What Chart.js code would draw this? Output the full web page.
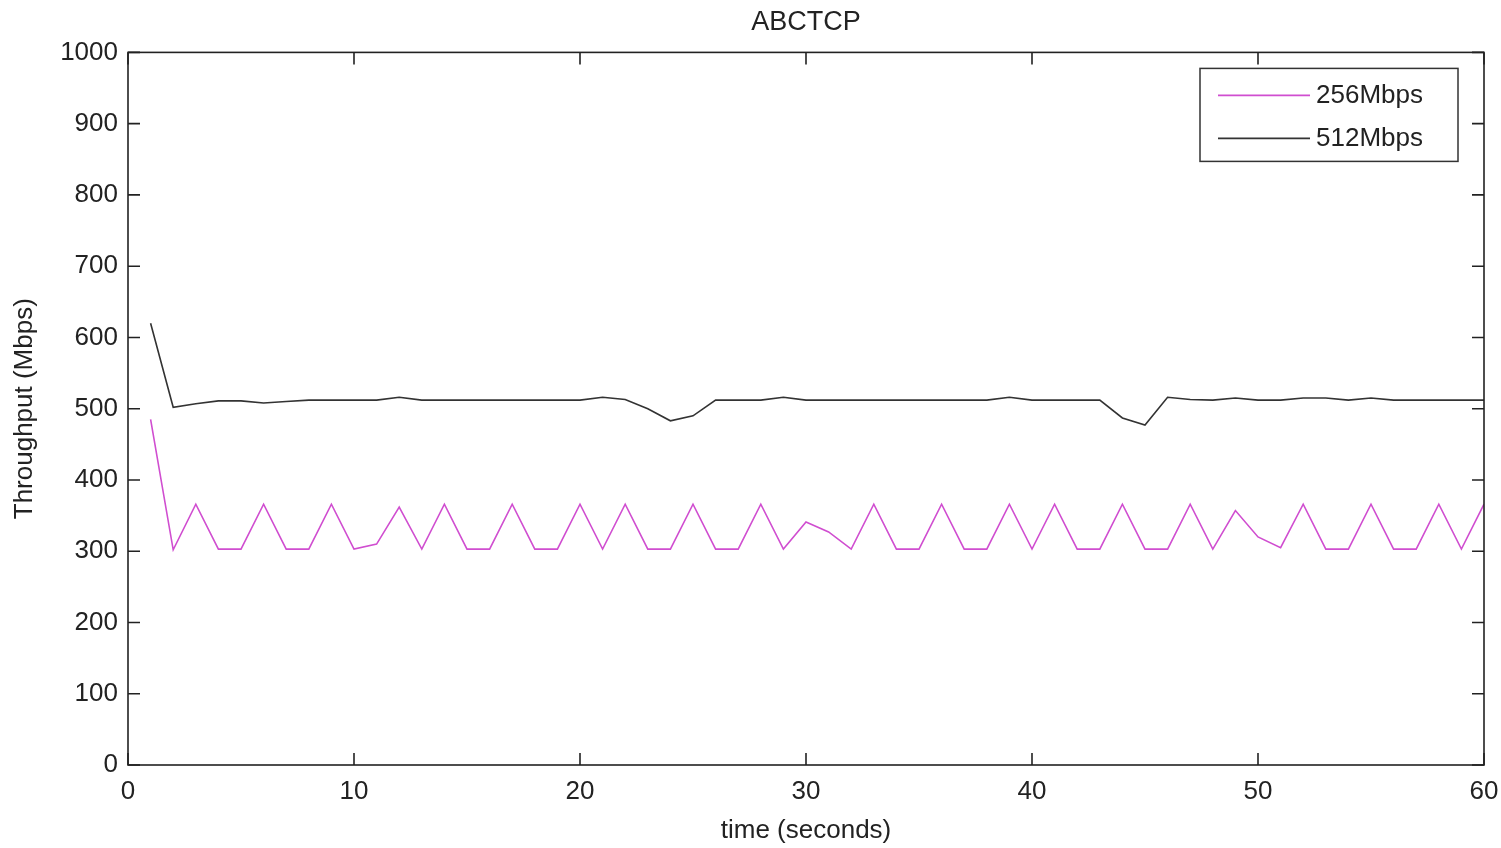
<!DOCTYPE html>
<html>
<head>
<meta charset="utf-8">
<script src="https://cdn.jsdelivr.net/npm/chart.js@4.4.0/dist/chart.umd.min.js"></script>
<style>
  html, body { margin: 0; padding: 0; background: #fff; }
  #wrap { width: 1501px; height: 848px; }
</style>
</head>
<body>
<div id="wrap"><canvas id="myChart" width="1501" height="848"></canvas></div>
<script>
// time axis (seconds)
var seconds = [1, 2, 3, 4, 5, 6, 7, 8, 9, 10, 11, 12, 13, 14, 15, 16, 17, 18, 19, 20,
               21, 22, 23, 24, 25, 26, 27, 28, 29, 30, 31, 32, 33, 34, 35, 36, 37, 38, 39, 40,
               41, 42, 43, 44, 45, 46, 47, 48, 49, 50, 51, 52, 53, 54, 55, 56, 57, 58, 59, 60];

// throughput values (Mbps)
var mbps256 = [485, 302, 366, 303, 303, 366, 303, 303, 366, 303, 310, 362, 303, 366, 303, 303, 366, 303, 303, 366,
               303, 366, 303, 303, 366, 303, 303, 366, 303, 341, 327, 303, 366, 303, 303, 366, 303, 303, 366, 303,
               366, 303, 303, 366, 303, 303, 366, 303, 357, 320, 305, 366, 303, 303, 366, 303, 303, 366, 303, 366];

var mbps512 = [620, 502, 507, 511, 511, 508, 510, 512, 512, 512, 512, 516, 512, 512, 512, 512, 512, 512, 512, 512,
               516, 513, 500, 483, 490, 512, 512, 512, 516, 512, 512, 512, 512, 512, 512, 512, 512, 512, 516, 512,
               512, 512, 512, 487, 477, 516, 513, 512, 515, 512, 512, 515, 515, 512, 515, 512, 512, 512, 512, 512];

var seriesNames = ['256Mbps', '512Mbps'];
var seriesColors = ['rgb(208, 78, 208)', '#333333'];

var xTicks = [0, 10, 20, 30, 40, 50, 60];
var yTicks = [0, 100, 200, 300, 400, 500, 600, 700, 800, 900, 1000];

var textFont = '"Liberation Sans", Arial, Helvetica, sans-serif';

function toPoints(ys) {
    return seconds.map(function (t, i) { return { x: t, y: ys[i] }; });
}

// frame, inward ticks on all four sides, and the boxed legend
var matlabFrame = {
    id: 'matlabFrame',
    afterDraw: function (chart) {
        var ctx = chart.ctx;
        var a = chart.chartArea;
        var x = chart.scales.x, y = chart.scales.y;
        var tl = 12;
        ctx.save();
        ctx.strokeStyle = '#222';
        ctx.lineWidth = 1.6;
        ctx.strokeRect(a.left, a.top, a.right - a.left, a.bottom - a.top);
        ctx.beginPath();
        xTicks.forEach(function (v) {
            var px = x.getPixelForValue(v);
            ctx.moveTo(px, a.bottom); ctx.lineTo(px, a.bottom - tl);
            ctx.moveTo(px, a.top); ctx.lineTo(px, a.top + tl);
        });
        yTicks.forEach(function (v) {
            var py = y.getPixelForValue(v);
            ctx.moveTo(a.left, py); ctx.lineTo(a.left + tl, py);
            ctx.moveTo(a.right, py); ctx.lineTo(a.right - tl, py);
        });
        ctx.stroke();

        // legend box in the top right corner
        var bx = a.right - 284, by = a.top + 16, bw = 258, bh = 93;
        ctx.fillStyle = '#fff';
        ctx.fillRect(bx, by, bw, bh);
        ctx.lineWidth = 1.5;
        ctx.strokeStyle = '#333';
        ctx.strokeRect(bx, by, bw, bh);
        ctx.font = '26px ' + textFont;
        ctx.textBaseline = 'middle';
        ctx.textAlign = 'left';
        seriesNames.forEach(function (name, i) {
            var ly = by + 27 + i * 43;
            ctx.strokeStyle = seriesColors[i];
            ctx.lineWidth = 1.6;
            ctx.beginPath();
            ctx.moveTo(bx + 18, ly);
            ctx.lineTo(bx + 110, ly);
            ctx.stroke();
            ctx.fillStyle = '#222';
            ctx.fillText(name, bx + 116, ly);
        });
        ctx.restore();
    }
};

var ctx = document.getElementById('myChart').getContext('2d');
var myChart = new Chart(ctx, {
    type: 'line',
    data: {
        datasets: [{
            label: seriesNames[0],
            data: toPoints(mbps256),
            borderColor: seriesColors[0],
            borderWidth: 1.6,
            pointRadius: 0,
            tension: 0,
            fill: false
        }, {
            label: seriesNames[1],
            data: toPoints(mbps512),
            borderColor: seriesColors[1],
            borderWidth: 1.6,
            pointRadius: 0,
            tension: 0,
            fill: false
        }]
    },
    options: {
        responsive: false,
        animation: false,
        layout: { padding: { left: 0, right: 17, top: 0, bottom: 0 } },
        plugins: {
            legend: { display: false },
            tooltip: { enabled: false },
            title: {
                display: true,
                fullSize: false,
                text: 'ABCTCP',
                color: '#222',
                font: { family: textFont, size: 27, weight: 'normal' },
                padding: { top: 6, bottom: 14 }
            }
        },
        scales: {
            x: {
                type: 'linear',
                min: 0,
                max: 60,
                afterFit: function (s) {
                    s.height = 83;
                    s.paddingLeft = 0;
                    s.paddingRight = 0;
                },
                afterBuildTicks: function (s) { s.ticks = xTicks.map(function (v) { return { value: v }; }); },
                grid: { display: false, drawTicks: false },
                border: { display: false },
                ticks: {
                    padding: 11,
                    color: '#222',
                    maxRotation: 0,
                    font: { family: textFont, size: 26 },
                    callback: function (v) { return String(v); }
                },
                title: {
                    display: true,
                    text: 'time (seconds)',
                    color: '#222',
                    font: { family: textFont, size: 26 },
                    padding: { top: 0, bottom: 2 }
                }
            },
            y: {
                type: 'linear',
                min: 0,
                max: 1000,
                afterFit: function (s) {
                    s.width = 128;
                    s.paddingTop = 0;
                    s.paddingBottom = 0;
                },
                afterBuildTicks: function (s) { s.ticks = yTicks.map(function (v) { return { value: v }; }); },
                grid: { display: false, drawTicks: false },
                border: { display: false },
                ticks: {
                    padding: 10,
                    color: '#222',
                    font: { family: textFont, size: 26 },
                    callback: function (v) { return String(v); }
                },
                title: {
                    display: true,
                    text: 'Throughput (Mbps)',
                    color: '#222',
                    font: { family: textFont, size: 26 },
                    padding: { top: 9, bottom: 0 }
                }
            }
        }
    },
    plugins: [matlabFrame]
});
</script>
</body>
</html>
